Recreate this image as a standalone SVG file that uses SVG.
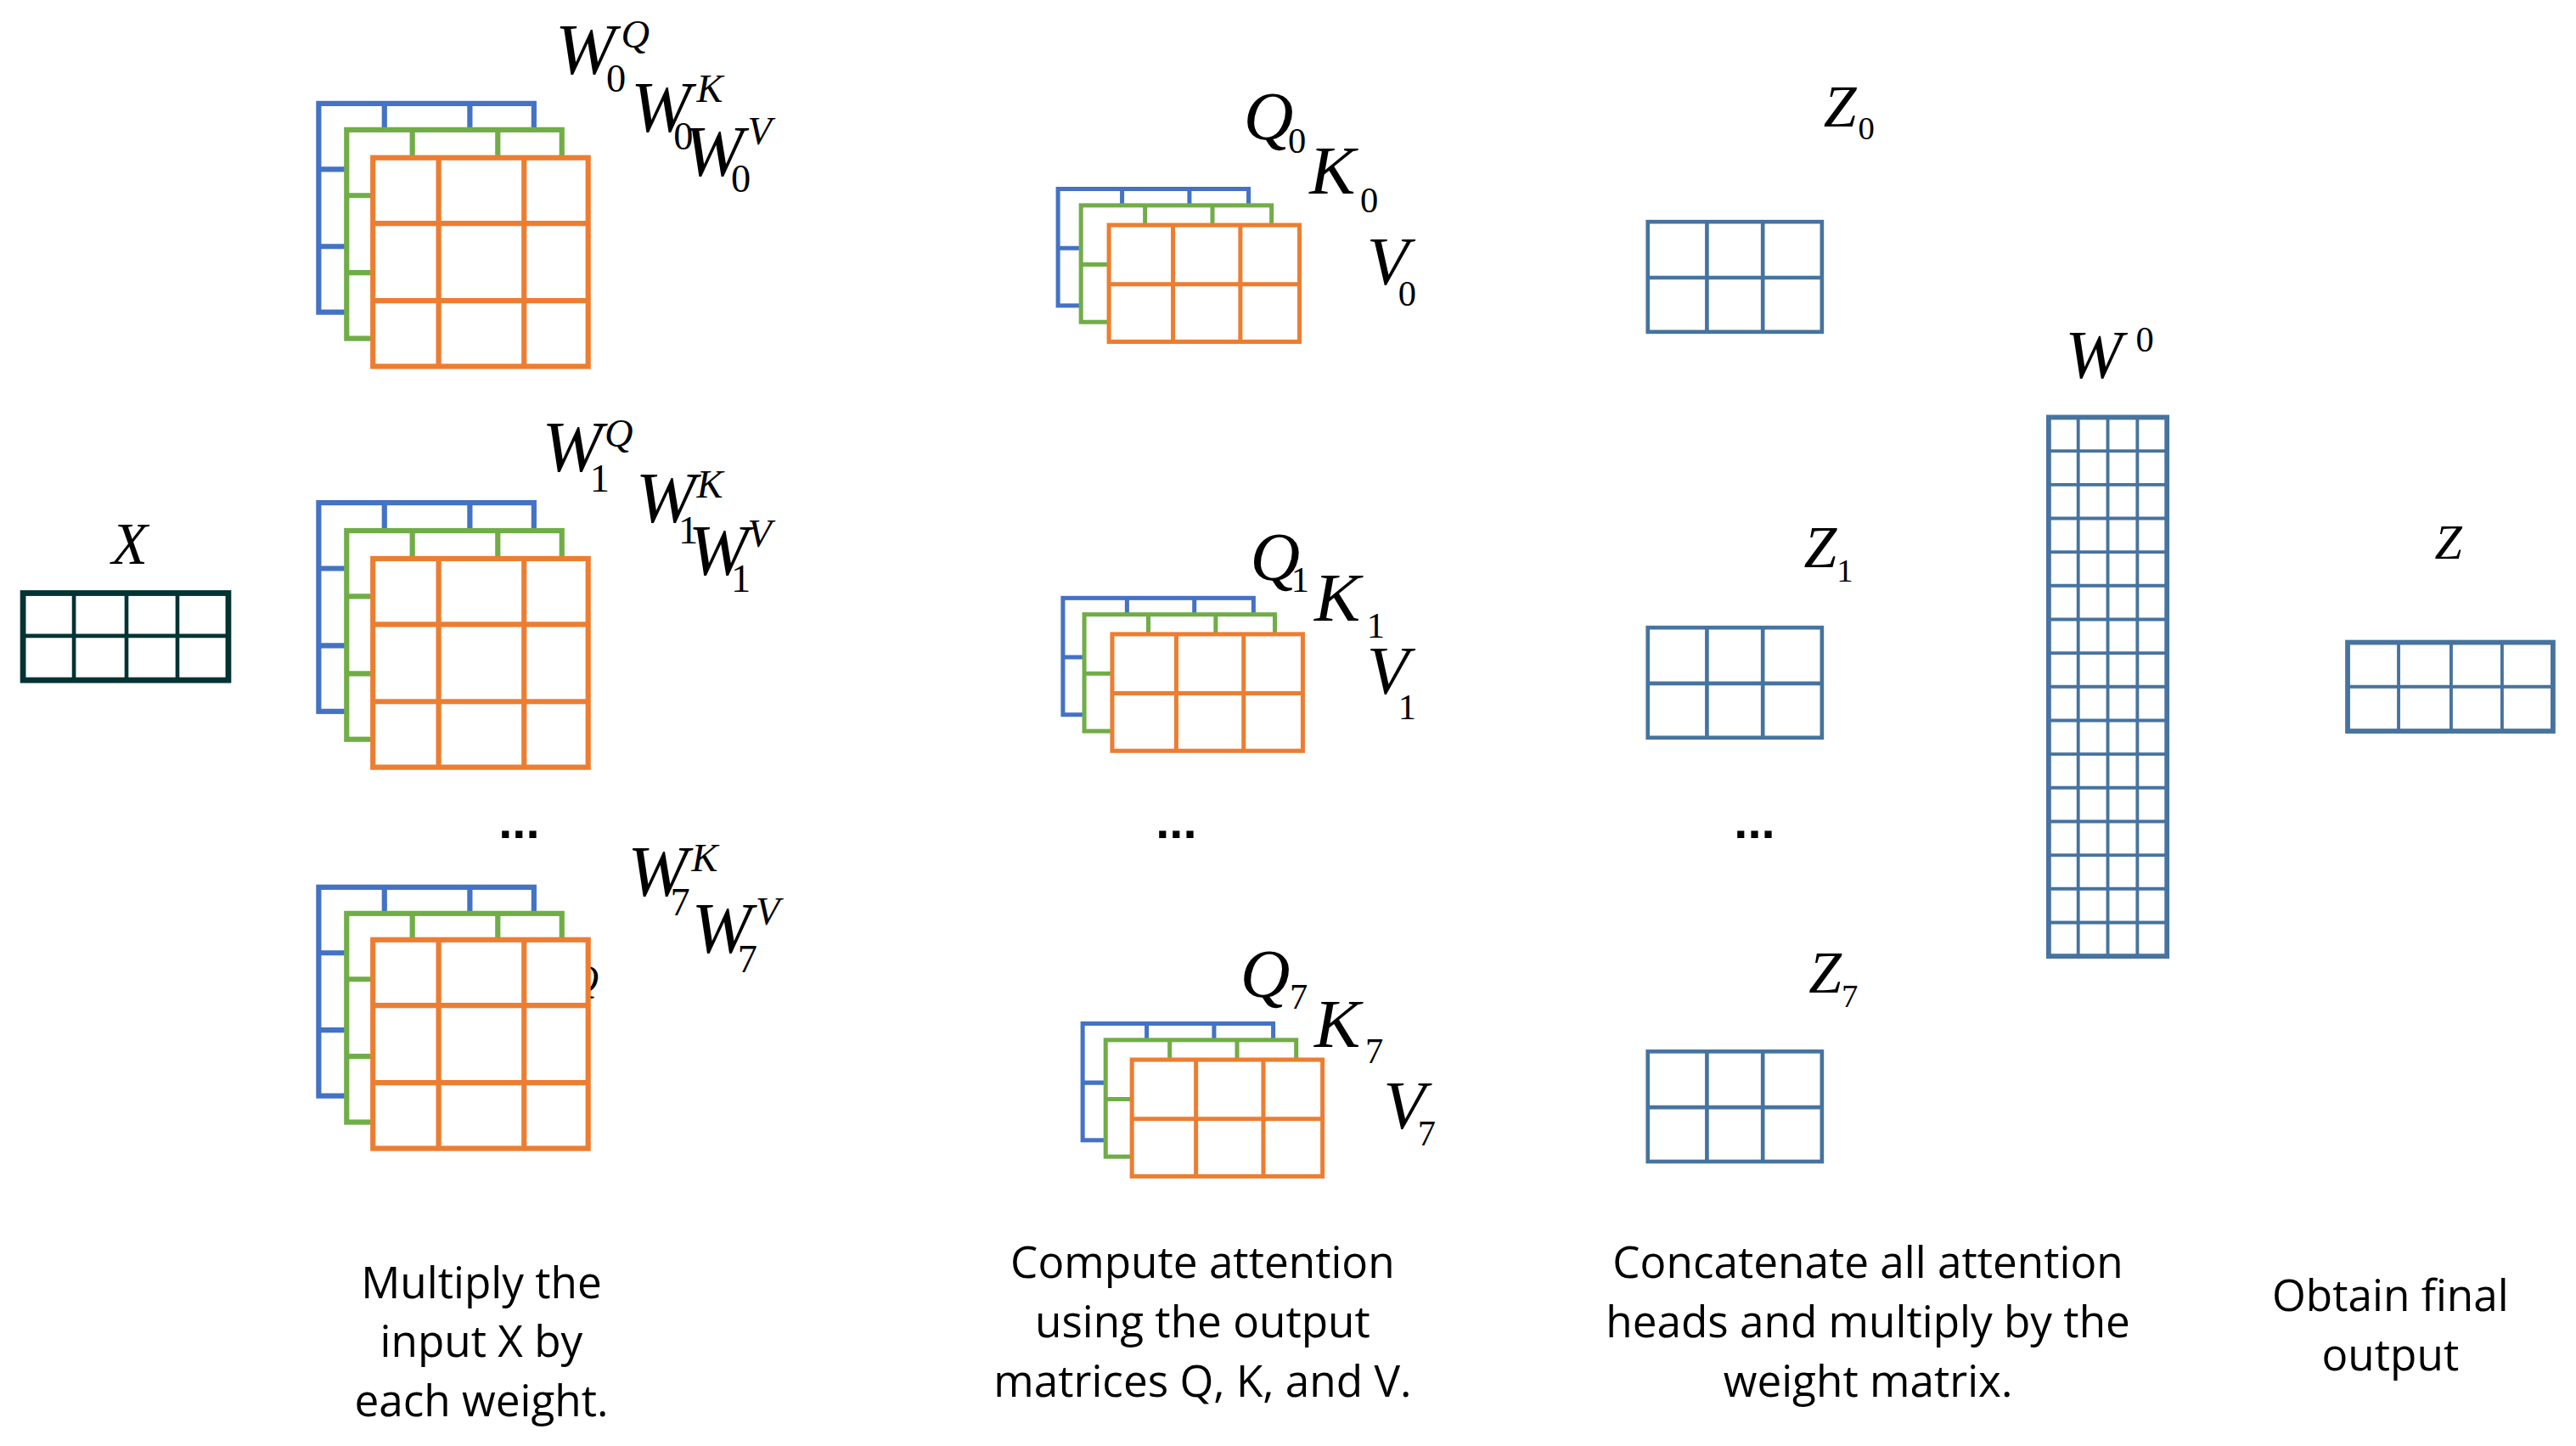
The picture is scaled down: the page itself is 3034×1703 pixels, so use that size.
<svg xmlns="http://www.w3.org/2000/svg" xmlns:xlink="http://www.w3.org/1999/xlink" width="3034" height="1703" viewBox="0 0 3034 1703">
<style>
.m{font-family:"Liberation Serif",serif;font-style:italic;fill:#000}
.d{font-family:"Liberation Serif",serif;font-style:normal;fill:#000}
.t{font-family:"Open Sans","Liberation Sans",sans-serif;font-size:26.5px;fill:#000;text-anchor:middle}
.dots{font-family:"Liberation Sans",sans-serif;font-size:30px;font-weight:bold;fill:#000;text-anchor:middle}
.b{stroke:#4472C4}.g{stroke:#70AD47}.o{stroke:#ED7D31}
</style>
<defs>
<g id="wm" fill="#fff" stroke-width="3.2"><rect x="0" y="0" width="131" height="127"/><path d="M40 0V127M92 0V127M0 40H131M0 87H131" fill="none"/></g>
<g id="qm" fill="#fff" stroke-width="2.6"><rect x="0" y="0" width="116" height="71"/><path d="M39 0V71M80 0V71M0 36H116" fill="none"/></g>
<g id="zm" fill="#fff" stroke="#46739F" stroke-width="2.4"><rect x="0" y="0" width="106" height="67"/><path d="M36 0V67M70 0V67M0 34H106" fill="none"/></g>
</defs>
<rect width="3034" height="1703" fill="#fff"/>
<g transform="scale(1.93495)">
<g id="input">
<text class="m" x="68" y="343" font-size="36">X</text>
<rect x="14" y="361" width="125" height="53" fill="#fff" stroke="#033333" stroke-width="3.5"/>
<path d="M45 361V414M77 361V414M108 361V414M14 387H139" stroke="#033333" stroke-width="2.4" fill="none"/>
</g>
<g id="weights0">
<text class="m" x="338" y="45" font-size="44">W</text><text class="d" x="369" y="56" font-size="24">0</text><text class="m" x="378" y="29" font-size="24">Q</text>
<text class="m" x="384" y="80" font-size="44">W</text><text class="d" x="410" y="91" font-size="24">0</text><text class="m" x="424" y="62" font-size="24">K</text>
<text class="m" x="416" y="107" font-size="44">W</text><text class="d" x="445" y="117" font-size="24">0</text><text class="m" x="455" y="88" font-size="24">V</text>
<use xlink:href="#wm" x="194" y="63" class="b"/><use xlink:href="#wm" x="211" y="79" class="g"/><use xlink:href="#wm" x="227" y="96" class="o"/>
</g>
<g id="weights1">
<text class="m" x="330" y="287" font-size="44">W</text><text class="d" x="359" y="299" font-size="24">1</text><text class="m" x="368" y="272" font-size="24">Q</text>
<text class="m" x="387" y="318" font-size="44">W</text><text class="d" x="413" y="331" font-size="24">1</text><text class="m" x="424" y="303" font-size="24">K</text>
<text class="m" x="419" y="350" font-size="44">W</text><text class="d" x="445" y="360" font-size="24">1</text><text class="m" x="455" y="333" font-size="24">V</text>
<use xlink:href="#wm" x="194" y="306" class="b"/><use xlink:href="#wm" x="211" y="323" class="g"/><use xlink:href="#wm" x="227" y="340" class="o"/>
</g>
<g id="weights7">
<text class="m" x="314" y="620" font-size="44">W</text><text class="d" x="345" y="631" font-size="24">7</text><text class="m" x="347" y="604" font-size="24">Q</text>
<text class="m" x="382" y="545" font-size="44">W</text><text class="d" x="408" y="557" font-size="24">7</text><text class="m" x="421" y="530" font-size="24">K</text>
<text class="m" x="421" y="580" font-size="44">W</text><text class="d" x="449" y="592" font-size="24">7</text><text class="m" x="460" y="563" font-size="24">V</text>
<use xlink:href="#wm" x="194" y="540" class="b"/><use xlink:href="#wm" x="211" y="556" class="g"/><use xlink:href="#wm" x="227" y="572" class="o"/>
</g>
<text class="dots" x="316" y="510">...</text>
<g id="qkv0">
<text class="m" x="757" y="85" font-size="42">Q</text><text class="d" x="784" y="93" font-size="22">0</text>
<text class="m" x="797" y="118" font-size="42">K</text><text class="d" x="828" y="129" font-size="22">0</text>
<text class="m" x="832" y="173" font-size="42">V</text><text class="d" x="851" y="186" font-size="22">0</text>
<use xlink:href="#qm" x="644" y="115" class="b"/><use xlink:href="#qm" x="658" y="125" class="g"/><use xlink:href="#qm" x="675" y="137" class="o"/>
</g>
<g id="qkv1">
<text class="m" x="761" y="353" font-size="42">Q</text><text class="d" x="786" y="360" font-size="22">1</text>
<text class="m" x="800" y="378" font-size="42">K</text><text class="d" x="832" y="388" font-size="22">1</text>
<text class="m" x="832" y="422" font-size="42">V</text><text class="d" x="851" y="438" font-size="22">1</text>
<use xlink:href="#qm" x="647" y="364" class="b"/><use xlink:href="#qm" x="660" y="374" class="g"/><use xlink:href="#qm" x="677" y="386" class="o"/>
</g>
<g id="qkv7">
<text class="m" x="755" y="607" font-size="42">Q</text><text class="d" x="785" y="614" font-size="22">7</text>
<text class="m" x="800" y="637" font-size="42">K</text><text class="d" x="831" y="647" font-size="22">7</text>
<text class="m" x="842" y="687" font-size="42">V</text><text class="d" x="863" y="697" font-size="22">7</text>
<use xlink:href="#qm" x="659" y="623" class="b"/><use xlink:href="#qm" x="673" y="633" class="g"/><use xlink:href="#qm" x="689" y="645" class="o"/>
</g>
<text class="dots" x="716" y="510">...</text>
<g id="z0"><text class="m" x="1110" y="77" font-size="36">Z</text><text class="d" x="1131" y="85" font-size="20">0</text><use xlink:href="#zm" x="1003" y="135"/></g>
<g id="z1"><text class="m" x="1098" y="345" font-size="36">Z</text><text class="d" x="1118" y="354" font-size="20">1</text><use xlink:href="#zm" x="1003" y="382"/></g>
<g id="z7"><text class="m" x="1101" y="604" font-size="36">Z</text><text class="d" x="1121" y="613" font-size="20">7</text><use xlink:href="#zm" x="1003" y="640"/></g>
<text class="dots" x="1068" y="510">...</text>
<g id="wo">
<text class="m" x="1257" y="230" font-size="42">W</text><text class="d" x="1300" y="214" font-size="22">0</text>
<rect x="1247" y="254" width="72" height="328" fill="#fff" stroke="#46739F" stroke-width="3"/>
<path d="M1265 254V582M1283 254V582M1301 254V582M1247 274.5H1319M1247 295H1319M1247 315.5H1319M1247 336H1319M1247 356.5H1319M1247 377H1319M1247 397.5H1319M1247 418H1319M1247 438.5H1319M1247 459H1319M1247 479.5H1319M1247 500H1319M1247 520.5H1319M1247 541H1319M1247 561.5H1319" stroke="#46739F" stroke-width="2" fill="none"/>
</g>
<g id="zout">
<text class="m" x="1482" y="340" font-size="30">Z</text>
<rect x="1429" y="391" width="125" height="54" fill="#fff" stroke="#46739F" stroke-width="3"/>
<path d="M1460 391V445M1492 391V445M1523 391V445M1429 418H1554" stroke="#46739F" stroke-width="2" fill="none"/>
</g>
<g id="captions">
<text class="t" x="293" y="790">Multiply the</text><text class="t" x="293" y="826">input X by</text><text class="t" x="293" y="862">each weight.</text>
<text class="t" x="732" y="778">Compute attention</text><text class="t" x="732" y="814">using the output</text><text class="t" x="732" y="850">matrices Q, K, and V.</text>
<text class="t" x="1137" y="778">Concatenate all attention</text><text class="t" x="1137" y="814">heads and multiply by the</text><text class="t" x="1137" y="850">weight matrix.</text>
<text class="t" x="1455" y="798">Obtain final</text><text class="t" x="1455" y="834">output</text>
</g>
<g id="connectors"/>
</g>
</svg>
